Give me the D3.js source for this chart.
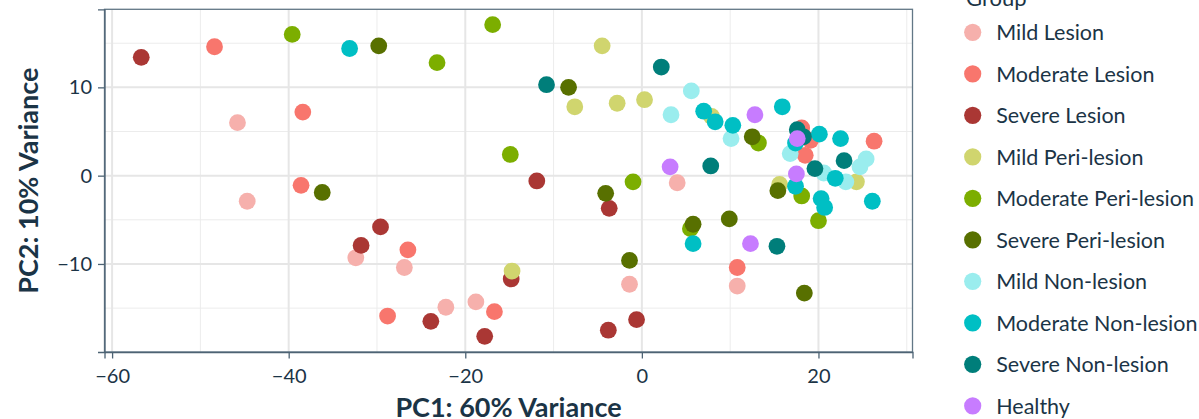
<!DOCTYPE html>
<html>
<head>
<meta charset="utf-8">
<script src="https://cdn.jsdelivr.net/npm/d3@7"></script>
<style>
  body { margin: 0; background: #fff; }
  svg { font-family: Lato, "Open Sans", sans-serif; }
</style>
</head>
<body>
<div id="chart-area"></div>
<script>
// groups in legend order, colours for each
var groups = ["Mild Lesion", "Moderate Lesion", "Severe Lesion",
              "Mild Peri-lesion", "Moderate Peri-lesion", "Severe Peri-lesion",
              "Mild Non-lesion", "Moderate Non-lesion", "Severe Non-lesion", "Healthy"];
var groupColors = ["#f6b0ac", "#f8766d", "#aa3734",
                   "#d0d56e", "#7cae00", "#587000",
                   "#9aedee", "#00bfc4", "#007e7a", "#c77cff"];

// [PC1, PC2] per sample
var mildLesion = [[-45.8, 6.0], [-44.7, -2.9], [-32.4, -9.3], [-26.9, -10.4], [-22.2, -14.9],
                  [-18.8, -14.3], [4.0, -0.8], [-1.4, -12.3], [10.8, -12.5]];
var moderateLesion = [[-48.4, 14.6], [-38.4, 7.2], [-38.6, -1.1], [-28.8, -15.9], [-26.5, -8.4],
                      [-16.7, -15.4], [10.8, -10.4], [18.1, 5.4], [19.1, 4.0], [18.5, 2.3], [26.3, 3.9]];
var severeLesion = [[-56.7, 13.4], [-29.6, -5.8], [-31.8, -7.9], [-11.9, -0.6], [-3.7, -3.7],
                    [-14.8, -11.7], [-23.9, -16.5], [-17.8, -18.2], [-3.8, -17.5], [-0.6, -16.3]];
var mildPeri = [[-4.5, 14.7], [-7.6, 7.8], [-2.8, 8.2], [0.3, 8.6], [-14.7, -10.8],
                [7.9, 6.7], [15.6, -1.0], [24.3, -0.7]];
var moderatePeri = [[-39.6, 16.0], [-23.2, 12.8], [-16.9, 17.1], [-14.9, 2.4], [-1.0, -0.7],
                    [13.2, 3.7], [5.5, -6.0], [18.1, -2.3], [20.0, -5.1]];
var severePeri = [[-29.8, 14.7], [-36.2, -1.9], [-8.3, 10.0], [-4.1, -2.0], [-1.4, -9.6],
                  [12.5, 4.4], [5.8, -5.5], [9.9, -4.9], [15.4, -1.7], [18.4, -13.3]];
var mildNon = [[5.6, 9.6], [3.3, 6.9], [10.1, 4.2], [16.8, 2.5], [25.4, 1.9],
               [24.7, 1.0], [20.6, 0.3], [23.1, -0.7]];
var moderateNon = [[-33.1, 14.4], [7.0, 7.3], [8.3, 6.1], [10.3, 5.7], [15.9, 7.8],
                   [17.4, 3.7], [20.1, 4.7], [22.5, 4.2], [21.9, -0.3], [17.4, -1.2],
                   [20.3, -2.6], [20.7, -3.6], [26.1, -2.9], [5.8, -7.7]];
var severeNon = [[-10.8, 10.3], [2.2, 12.3], [7.8, 1.1], [17.6, 5.2], [18.3, 4.4],
                 [19.6, 0.8], [22.9, 1.7], [15.3, -8.0]];
var healthy = [[3.2, 1.0], [12.8, 6.9], [17.6, 4.2], [17.5, 0.2], [12.3, -7.7]];

var xTicks = [-60, -40, -20, 0, 20];
var yTicks = [-10, 0, 10];

var samples = [mildLesion, moderateLesion, severeLesion, mildPeri, moderatePeri, severePeri,
               mildNon, moderateNon, severeNon, healthy];
var data = [];
samples.forEach((arr, i) => {
    arr.forEach((p) => {
        data.push({group: groups[i], pc1: p[0], pc2: p[1]});
    });
});

var textColor = "#1b3446";

var svg = d3.select("#chart-area").append("svg")
    .attr("width", 1199)
    .attr("height", 419);

var x = d3.scaleLinear()
    .domain([-60.86, 30.65])
    .range([104.5, 912.5]);

var y = d3.scaleLinear()
    .domain([-19.97, 18.84])
    .range([352, 9.3]);

var color = d3.scaleOrdinal()
    .domain(groups)
    .range(groupColors);

// grid
var grid = svg.append("g");
grid.selectAll(".xminor").data(d3.range(-50, 31, 20))
    .enter().append("line")
        .attr("x1", (d) => x(d)).attr("x2", (d) => x(d))
        .attr("y1", y.range()[0]).attr("y2", y.range()[1])
        .attr("stroke", "#ececec").attr("stroke-width", 1);
grid.selectAll(".yminor").data([-15, -5, 5, 15])
    .enter().append("line")
        .attr("y1", (d) => y(d)).attr("y2", (d) => y(d))
        .attr("x1", x.range()[0]).attr("x2", x.range()[1])
        .attr("stroke", "#ececec").attr("stroke-width", 1);
grid.selectAll(".xmajor").data(xTicks)
    .enter().append("line")
        .attr("x1", (d) => x(d)).attr("x2", (d) => x(d))
        .attr("y1", y.range()[0]).attr("y2", y.range()[1])
        .attr("stroke", "#e6e6e6").attr("stroke-width", 2);
grid.selectAll(".ymajor").data(yTicks)
    .enter().append("line")
        .attr("y1", (d) => y(d)).attr("y2", (d) => y(d))
        .attr("x1", x.range()[0]).attr("x2", x.range()[1])
        .attr("stroke", "#e6e6e6").attr("stroke-width", 2);

// points
svg.append("g").selectAll("circle").data(data)
    .enter().append("circle")
        .attr("cx", (d) => x(d.pc1))
        .attr("cy", (d) => y(d.pc2))
        .attr("r", 8.4)
        .attr("fill", (d) => color(d.group));

// panel border
svg.append("rect")
    .attr("x", x.range()[0]).attr("y", y.range()[1])
    .attr("width", x.range()[1] - x.range()[0])
    .attr("height", y.range()[0] - y.range()[1])
    .attr("fill", "none")
    .attr("stroke", "#627786")
    .attr("stroke-width", 1.3);

// axes
var xAxis = svg.append("g")
    .attr("transform", "translate(0," + y.range()[0] + ")")
    .call(d3.axisBottom(x).tickValues(xTicks).tickSize(6.5).tickPadding(10)
        .tickFormat((d) => d < 0 ? "\u2212" + Math.abs(d) : d));
var yAxis = svg.append("g")
    .attr("transform", "translate(" + x.range()[0] + ",0)")
    .call(d3.axisLeft(y).tickValues(yTicks).tickSize(6.5).tickPadding(6)
        .tickFormat((d) => d < 0 ? "\u2212" + Math.abs(d) : d));
[xAxis, yAxis].forEach((g) => {
    g.select(".domain").attr("stroke", "#4d6374").attr("stroke-width", 1.3);
    g.selectAll(".tick line").attr("stroke", "#4d6374").attr("stroke-width", 1.3);
    g.selectAll("text").attr("fill", textColor)
        .style("font-family", "Lato").style("font-size", "20px");
});

// axis titles
svg.append("text")
    .attr("x", (x.range()[0] + x.range()[1]) / 2)
    .attr("y", 417)
    .attr("text-anchor", "middle")
    .attr("fill", textColor)
    .style("font-size", "27px").style("font-weight", "bold")
    .text("PC1: 60% Variance");
svg.append("text")
    .attr("transform", "translate(38," + ((y.range()[0] + y.range()[1]) / 2) + ") rotate(-90)")
    .attr("text-anchor", "middle")
    .attr("fill", textColor)
    .style("font-size", "27px").style("font-weight", "bold")
    .text("PC2: 10% Variance");

// legend
var legend = svg.append("g");
legend.append("text")
    .attr("x", 966).attr("y", 6)
    .attr("fill", textColor)
    .style("font-size", "22px")
    .text("Group");
var items = legend.selectAll(".item").data(groups)
    .enter().append("g")
        .attr("transform", (d, i) => "translate(972.7," + (32.3 + i * 41.5) + ")");
items.append("circle")
    .attr("r", 8.6)
    .attr("fill", (d) => color(d));
items.append("text")
    .attr("x", 23.5)
    .attr("dy", "0.36em")
    .attr("fill", textColor)
    .style("font-size", "21.5px")
    .text((d) => d);
</script>
</body>
</html>
